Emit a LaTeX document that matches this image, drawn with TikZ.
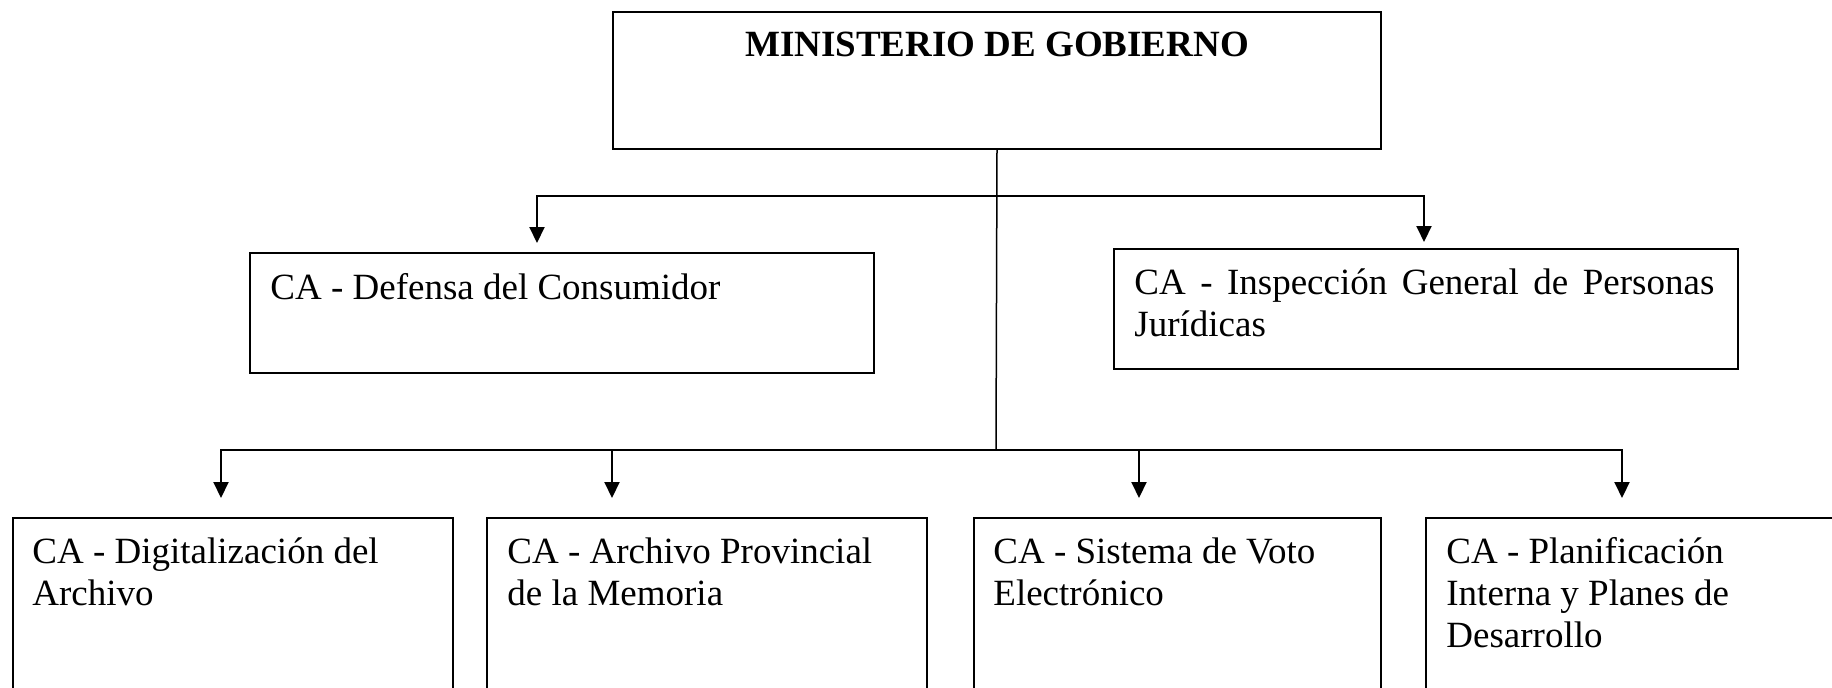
\documentclass[tikz,border=0pt]{standalone}
\usepackage{fontspec}
\setmainfont{Liberation Serif}
\usetikzlibrary{arrows.meta,positioning}

\begin{document}
\begin{tikzpicture}[x=0.5pt,y=-0.5pt,
    box/.style={draw,line width=1pt,anchor=north west,inner sep=0pt},
    lbl/.style={anchor=north west,inner sep=0pt,align=left,
      font=\fontsize{18.5}{21}\selectfont},
    wire/.style={line width=1pt},
    down/.style={wire,-{Triangle[length=8pt,width=7.5pt]}}]
  \useasboundingbox (0,0) rectangle (1832,687);
  \clip (0,0) rectangle (1832,687);

  % ministerio
  \node[box,minimum width=384pt,minimum height=68.5pt] (min) at (612,11) {};
  \node[lbl,anchor=north,font=\fontsize{18.5}{21}\selectfont\bfseries] (minT)
    at ([shift={(0,21)}]min.north) {MINISTERIO DE GOBIERNO};

  % first level
  \node[box,minimum width=312pt,minimum height=60pt] (def) at (249,252) {};
  \node[lbl] (defT) at ([shift={(21,21)}]def.north west) {CA - Defensa del Consumidor};

  \node[box,minimum width=312pt,minimum height=60pt] (insp) at (1113,248) {};
  \node[lbl,text width=290pt,align=justify] (inspT) at ([shift={(21,20)}]insp.north west)
    {CA - Inspección General de Personas Jurídicas};

  % second level
  \node[box,minimum width=220pt,minimum height=130pt] (dig) at (12,517) {};
  \node[lbl] (digT) at ([shift={(20,20)}]dig.north west) {CA - Digitalización del\\Archivo};

  \node[box,minimum width=220pt,minimum height=130pt] (arch) at (486,517) {};
  \node[lbl] (archT) at ([shift={(21,20)}]arch.north west) {CA - Archivo Provincial\\de la Memoria};

  \node[box,minimum width=203.5pt,minimum height=130pt] (voto) at (973,517) {};
  \node[lbl] (votoT) at ([shift={(20,20)}]voto.north west) {CA - Sistema de Voto\\Electrónico};

  \node[box,minimum width=230pt,minimum height=130pt] (plan) at (1425,517) {};
  \node[lbl] (planT) at ([shift={(21,20)}]plan.north west) {CA - Planificación\\Interna y Planes de\\Desarrollo};

  % connectors
  \coordinate (hubA) at (996,196);
  \coordinate (hubB) at (996,450);
  \coordinate (toDef) at (537,243);
  \coordinate (toInsp) at (1424,242);
  \coordinate (toDig) at (221,498);
  \coordinate (toArch) at (612,498);
  \coordinate (toVoto) at (1139,498);
  \coordinate (toPlan) at (1622,498);

  \draw[line width=0.75pt] (min.south) -- (hubB);
  \draw[down] (hubA) -| (toDef);
  \draw[down] (hubA) -| (toInsp);
  \foreach \t in {toDig,toArch,toVoto,toPlan}
    \draw[down] (hubB) -| (\t);
\end{tikzpicture}
\end{document}
